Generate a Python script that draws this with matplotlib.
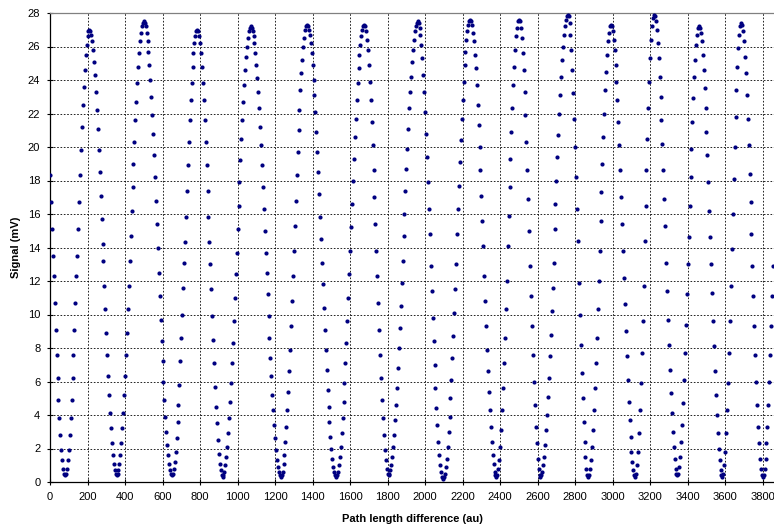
import matplotlib
matplotlib.use("Agg")
import matplotlib.pyplot as plt

plt.rcParams['font.family'] = ['Liberation Sans', 'DejaVu Sans']

# Path length difference (au) of each sample
path_au = [
    0, 5, 10, 15, 20, 25, 30, 35, 40, 45, 50, 55, 60, 65, 70, 75,
    80, 85, 90, 95, 100, 105, 110, 115, 120, 125, 130, 135, 140, 145, 150, 155, 160, 165, 170, 175, 180, 185, 190, 195, 200, 205,
    210, 215, 220, 225, 230, 235, 240, 245, 250, 255, 260, 265, 270, 275, 280, 285, 290, 295, 300, 305, 310, 315, 320, 325, 330, 335, 340, 345, 350,
    355, 360, 365, 370, 375, 380, 385, 390, 395, 400, 405, 410, 415, 420, 425, 430, 435, 440, 445, 450, 455, 460, 465, 470, 475, 480, 485, 490, 495,
    500, 505, 510, 515, 520, 525, 530, 535, 540, 545, 550, 555, 560, 565, 570, 575, 580, 585, 590, 595, 600, 605, 610, 615, 620, 625, 630, 635, 640, 645,
    650, 655, 660, 665, 670, 675, 680, 685, 690, 695, 700, 705, 710, 715, 720, 725, 730, 735, 740, 745, 750, 755, 760, 765, 770, 775, 780,
    785, 790, 795, 800, 805, 810, 815, 820, 825, 830, 835, 840, 845, 850, 855, 860, 865, 870, 875, 880, 885, 890, 895, 900, 905, 910, 915,
    920, 925, 930, 935, 940, 945, 950, 955, 960, 965, 970, 975, 980, 985, 990, 995, 1000, 1005, 1010, 1015, 1020, 1025, 1030, 1035, 1040, 1045, 1050, 1055, 1060, 1065,
    1070, 1075, 1080, 1085, 1090, 1095, 1100, 1105, 1110, 1115, 1120, 1125, 1130, 1135, 1140, 1145, 1150, 1155, 1160, 1165, 1170, 1175, 1180, 1185, 1190, 1195, 1200, 1205, 1210, 1215, 1220, 1225,
    1230, 1235, 1240, 1245, 1250, 1255, 1260, 1265, 1270, 1275, 1280, 1285, 1290, 1295, 1300, 1305, 1310, 1315, 1320, 1325, 1330, 1335, 1340, 1345, 1350, 1355, 1360, 1365,
    1370, 1375, 1380, 1385, 1390, 1395, 1400, 1405, 1410, 1415, 1420, 1425, 1430, 1435, 1440, 1445, 1450, 1455, 1460, 1465, 1470, 1475, 1480, 1485, 1490, 1495, 1500, 1505, 1510, 1515, 1520,
    1525, 1530, 1535, 1540, 1545, 1550, 1555, 1560, 1565, 1570, 1575, 1580, 1585, 1590, 1595, 1600, 1605, 1610, 1615, 1620, 1625, 1630, 1635, 1640, 1645, 1650, 1655, 1660, 1665, 1670,
    1675, 1680, 1685, 1690, 1695, 1700, 1705, 1710, 1715, 1720, 1725, 1730, 1735, 1740, 1745, 1750, 1755, 1760, 1765, 1770, 1775, 1780, 1785, 1790, 1795, 1800,
    1805, 1810, 1815, 1820, 1825, 1830, 1835, 1840, 1845, 1850, 1855, 1860, 1865, 1870, 1875, 1880, 1885, 1890, 1895, 1900, 1905, 1910, 1915, 1920, 1925, 1930, 1935, 1940, 1945, 1950, 1955,
    1960, 1965, 1970, 1975, 1980, 1985, 1990, 1995, 2000, 2005, 2010, 2015, 2020, 2025, 2030, 2035, 2040, 2045, 2050, 2055, 2060, 2065, 2070, 2075, 2080, 2085, 2090,
    2095, 2100, 2105, 2110, 2115, 2120, 2125, 2130, 2135, 2140, 2145, 2150, 2155, 2160, 2165, 2170, 2175, 2180, 2185, 2190, 2195, 2200, 2205, 2210, 2215, 2220, 2225, 2230, 2235,
    2240, 2245, 2250, 2255, 2260, 2265, 2270, 2275, 2280, 2285, 2290, 2295, 2300, 2305, 2310, 2315, 2320, 2325, 2330, 2335, 2340, 2345, 2350, 2355, 2360, 2365, 2370, 2375,
    2380, 2385, 2390, 2395, 2400, 2405, 2410, 2415, 2420, 2425, 2430, 2435, 2440, 2445, 2450, 2455, 2460, 2465, 2470, 2475, 2480, 2485, 2490, 2495,
    2500, 2505, 2510, 2515, 2520, 2525, 2530, 2535, 2540, 2545, 2550, 2555, 2560, 2565, 2570, 2575, 2580, 2585, 2590, 2595, 2600, 2605, 2610,
    2615, 2620, 2625, 2630, 2635, 2640, 2645, 2650, 2655, 2660, 2665, 2670, 2675, 2680, 2685, 2690, 2695, 2700, 2705, 2710, 2715, 2720, 2725, 2730, 2735, 2740, 2745, 2750, 2755,
    2760, 2765, 2770, 2775, 2780, 2785, 2790, 2795, 2800, 2805, 2810, 2815, 2820, 2825, 2830, 2835, 2840, 2845, 2850, 2855, 2860, 2865,
    2870, 2875, 2880, 2885, 2890, 2895, 2900, 2905, 2910, 2915, 2920, 2925, 2930, 2935, 2940, 2945, 2950, 2955, 2960, 2965, 2970, 2975, 2980, 2985,
    2990, 2995, 3000, 3005, 3010, 3015, 3020, 3025, 3030, 3035, 3040, 3045, 3050, 3055, 3060, 3065, 3070, 3075, 3080, 3085, 3090, 3095, 3100, 3105, 3110, 3115,
    3120, 3125, 3130, 3135, 3140, 3145, 3150, 3155, 3160, 3165, 3170, 3175, 3180, 3185, 3190, 3195, 3200, 3205, 3210, 3215,
    3220, 3225, 3230, 3235, 3240, 3245, 3250, 3255, 3260, 3265, 3270, 3275, 3280, 3285, 3290, 3295, 3300, 3305, 3310, 3315, 3320, 3325, 3330, 3335, 3340,
    3345, 3350, 3355, 3360, 3365, 3370, 3375, 3380, 3385, 3390, 3395, 3400, 3405, 3410, 3415, 3420, 3425, 3430, 3435, 3440, 3445, 3450, 3455,
    3460, 3465, 3470, 3475, 3480, 3485, 3490, 3495, 3500, 3505, 3510, 3515, 3520, 3525, 3530, 3535, 3540, 3545, 3550, 3555, 3560, 3565, 3570, 3575, 3580,
    3585, 3590, 3595, 3600, 3605, 3610, 3615, 3620, 3625, 3630, 3635, 3640, 3645, 3650, 3655, 3660, 3665, 3670, 3675, 3680,
    3685, 3690, 3695, 3700, 3705, 3710, 3715, 3720, 3725, 3730, 3735, 3740, 3745, 3750, 3755, 3760, 3765, 3770, 3775, 3780, 3785, 3790, 3795,
    3800, 3805, 3810, 3815, 3820, 3825, 3830, 3835, 3840, 3845, 3850, 3855,
]

# Signal (mV)
signal_mv = [
    18.3, 16.7, 15.1, 13.5, 12.3, 10.7, 9.1, 7.6, 6.2, 4.9, 3.8, 2.8, 1.9, 1.3, 0.8, 0.5,
    0.4, 0.5, 0.8, 1.3, 1.9, 2.8, 3.8, 4.9, 6.2, 7.6, 9.1, 10.7, 12.3, 13.5, 15.1, 16.7, 18.3, 19.8, 21.2, 22.5, 23.6, 24.6, 25.5, 26.1, 26.6, 26.9,
    27.0, 26.9, 26.7, 26.3, 25.8, 25.1, 24.3, 23.3, 22.2, 21.1, 19.8, 18.5, 17.1, 15.7, 14.2, 13.2, 11.7, 10.3, 8.9, 7.6, 6.3, 5.2, 4.1, 3.2, 2.3, 1.6, 1.1, 0.7, 0.5,
    0.4, 0.5, 0.7, 1.1, 1.6, 2.3, 3.2, 4.1, 5.2, 6.3, 7.6, 8.9, 10.3, 11.7, 13.2, 14.7, 16.2, 17.6, 19.0, 20.3, 21.6, 22.7, 23.8, 24.8, 25.6, 26.3, 26.8, 27.2, 27.4,
    27.5, 27.4, 27.2, 26.8, 26.3, 25.7, 24.9, 24.0, 23.0, 21.9, 20.8, 19.5, 18.2, 16.8, 15.4, 14.0, 12.5, 11.1, 9.7, 8.4, 7.2, 6.0, 4.9, 3.9, 3.0, 2.2, 1.6, 1.1, 0.7, 0.5,
    0.4, 0.5, 0.8, 1.2, 1.8, 2.6, 3.6, 4.6, 5.8, 7.2, 8.6, 10.0, 11.6, 13.1, 14.3, 15.8, 17.4, 18.9, 20.3, 21.6, 22.8, 23.8, 24.8, 25.6, 26.2, 26.6, 26.9,
    27.0, 26.9, 26.6, 26.2, 25.6, 24.8, 23.8, 22.8, 21.6, 20.3, 18.9, 17.4, 15.8, 14.3, 13.0, 11.5, 9.9, 8.5, 7.1, 5.7, 4.5, 3.5, 2.5, 1.7, 1.1, 0.7, 0.4,
    0.3, 0.4, 0.6, 1.0, 1.5, 2.1, 2.9, 3.8, 4.8, 5.9, 7.1, 8.3, 9.6, 11.0, 12.4, 13.7, 15.1, 16.5, 17.9, 19.2, 20.5, 21.6, 22.7, 23.7, 24.6, 25.4, 26.0, 26.5, 26.9, 27.1,
    27.2, 27.1, 26.9, 26.6, 26.2, 25.6, 24.9, 24.1, 23.3, 22.3, 21.2, 20.1, 18.9, 17.6, 16.3, 15.0, 13.7, 12.5, 11.2, 9.9, 8.6, 7.4, 6.3, 5.2, 4.3, 3.4, 2.6, 1.9, 1.3, 0.9, 0.6, 0.4,
    0.3, 0.4, 0.6, 1.1, 1.6, 2.4, 3.3, 4.3, 5.4, 6.6, 7.9, 9.3, 10.8, 12.3, 13.8, 15.3, 16.8, 18.3, 19.7, 21.0, 22.2, 23.4, 24.4, 25.2, 26.0, 26.5, 27.0, 27.2,
    27.3, 27.2, 27.0, 26.7, 26.2, 25.6, 24.9, 24.0, 23.1, 22.1, 20.9, 19.7, 18.5, 17.2, 15.8, 14.5, 13.1, 11.8, 10.4, 9.1, 7.9, 6.7, 5.5, 4.5, 3.6, 2.7, 2.0, 1.4, 0.9, 0.6, 0.4,
    0.3, 0.4, 0.6, 1.0, 1.5, 2.1, 2.9, 3.8, 4.8, 5.9, 7.1, 8.3, 9.6, 11.0, 12.4, 13.8, 15.2, 16.6, 18.0, 19.3, 20.6, 21.7, 22.8, 23.8, 24.7, 25.5, 26.1, 26.6, 27.0, 27.2,
    27.3, 27.2, 26.9, 26.4, 25.8, 24.9, 23.9, 22.8, 21.5, 20.1, 18.6, 17.0, 15.4, 13.8, 12.3, 10.7, 9.1, 7.6, 6.2, 4.9, 3.8, 2.8, 1.9, 1.3, 0.8, 0.5,
    0.4, 0.5, 0.7, 1.0, 1.5, 2.1, 2.8, 3.7, 4.6, 5.6, 6.8, 8.0, 9.2, 10.5, 11.9, 13.2, 14.7, 16.0, 17.4, 18.7, 19.9, 21.1, 22.3, 23.3, 24.2, 25.1, 25.8, 26.4, 26.9, 27.2, 27.4,
    27.5, 27.4, 27.1, 26.7, 26.1, 25.3, 24.3, 23.3, 22.1, 20.8, 19.4, 17.9, 16.3, 14.8, 12.9, 11.4, 9.8, 8.4, 7.0, 5.6, 4.4, 3.4, 2.4, 1.6, 1.0, 0.6, 0.3,
    0.2, 0.3, 0.5, 0.9, 1.4, 2.1, 3.0, 3.9, 5.0, 6.1, 7.4, 8.7, 10.1, 11.5, 13.0, 14.8, 16.3, 17.7, 19.1, 20.4, 21.7, 22.8, 23.9, 24.9, 25.7, 26.4, 26.9, 27.3, 27.5,
    27.6, 27.5, 27.3, 26.8, 26.3, 25.5, 24.7, 23.7, 22.5, 21.3, 20.0, 18.6, 17.1, 15.6, 14.1, 12.3, 10.8, 9.3, 7.9, 6.6, 5.4, 4.3, 3.3, 2.4, 1.6, 1.1, 0.6, 0.4,
    0.3, 0.4, 0.8, 1.3, 2.1, 3.1, 4.3, 5.6, 7.1, 8.6, 10.3, 12.0, 14.1, 15.9, 17.6, 19.3, 20.9, 22.3, 23.7, 24.8, 25.8, 26.6, 27.1, 27.5,
    27.6, 27.5, 27.1, 26.5, 25.6, 24.6, 23.3, 21.9, 20.3, 18.6, 16.9, 15.0, 12.9, 11.1, 9.3, 7.6, 6.0, 4.6, 3.3, 2.3, 1.4, 0.8, 0.4,
    0.3, 0.4, 0.6, 1.0, 1.5, 2.2, 3.1, 4.0, 5.1, 6.2, 7.5, 8.8, 10.2, 11.6, 13.1, 15.1, 16.6, 18.0, 19.4, 20.7, 22.0, 23.1, 24.2, 25.2, 26.0, 26.7, 27.2, 27.6, 27.8,
    27.9, 27.8, 27.4, 26.7, 25.8, 24.6, 23.2, 21.7, 20.0, 18.2, 16.3, 14.4, 11.9, 10.0, 8.2, 6.5, 5.0, 3.6, 2.4, 1.5, 0.8, 0.4,
    0.3, 0.4, 0.8, 1.3, 2.1, 3.1, 4.3, 5.6, 7.1, 8.6, 10.3, 12.0, 13.8, 15.6, 17.3, 19.0, 20.6, 22.0, 23.4, 24.5, 25.5, 26.3, 26.8, 27.2,
    27.3, 27.2, 26.9, 26.4, 25.8, 24.9, 23.9, 22.8, 21.5, 20.1, 18.6, 17.0, 15.4, 13.8, 12.2, 10.6, 9.0, 7.5, 6.1, 4.8, 3.7, 2.7, 1.8, 1.2, 0.7, 0.4,
    0.3, 0.5, 1.0, 1.8, 2.9, 4.3, 5.9, 7.7, 9.6, 11.7, 14.4, 16.5, 18.6, 20.5, 22.3, 23.9, 25.3, 26.4, 27.2, 27.7,
    27.9, 27.8, 27.5, 27.0, 26.2, 25.3, 24.2, 23.0, 21.6, 20.2, 18.6, 16.9, 15.3, 13.1, 11.4, 9.7, 8.2, 6.7, 5.3, 4.1, 3.0, 2.1, 1.4, 0.8, 0.5,
    0.4, 0.5, 0.9, 1.5, 2.4, 3.4, 4.7, 6.1, 7.7, 9.4, 11.2, 13.0, 14.6, 16.5, 18.2, 19.9, 21.5, 22.9, 24.2, 25.2, 26.1, 26.7, 27.1,
    27.2, 27.1, 26.8, 26.3, 25.5, 24.6, 23.5, 22.3, 20.9, 19.5, 17.9, 16.2, 14.6, 13.0, 11.3, 9.6, 8.1, 6.6, 5.2, 4.0, 2.9, 2.0, 1.3, 0.7, 0.4,
    0.3, 0.5, 1.0, 1.8, 2.9, 4.3, 5.9, 7.7, 9.6, 11.7, 13.9, 16.0, 18.1, 20.0, 21.8, 23.4, 24.8, 25.9, 26.7, 27.2,
    27.4, 27.3, 26.9, 26.3, 25.4, 24.4, 23.1, 21.7, 20.1, 18.4, 16.7, 14.8, 12.9, 11.1, 9.3, 7.6, 6.0, 4.6, 3.3, 2.3, 1.4, 0.8, 0.4,
    0.3, 0.4, 0.8, 1.4, 2.3, 3.3, 4.6, 6.0, 7.6, 9.3, 11.1, 12.9,
]

x_ticks = list(range(0, 3801, 200))
y_ticks = list(range(0, 29, 2))
x_label = "Path length difference (au)"
y_label = "Signal (mV)"

W, H = 774, 527
fig = plt.figure(figsize=(W / 100, H / 100), dpi=100)
ax = fig.add_axes([50 / W, (H - 482) / H, 1 - 50 / W, (482 - 13) / H])

ax.scatter(path_au, signal_mv, s=9, color="#000080", linewidths=0, zorder=3)

ax.set_xlim(0, 3860)
ax.set_ylim(0, 28)
ax.set_xticks(x_ticks)
ax.set_yticks(y_ticks)
ax.tick_params(axis="both", labelsize=8, length=4, width=0.8, color="black",
               direction="inout")
ax.tick_params(axis="x", pad=5)
ax.tick_params(axis="y", pad=5)

ax.grid(True, color="black", linestyle=(0, (2, 2)), linewidth=0.6, zorder=1)
ax.set_axisbelow(True)

for side in ("left", "bottom"):
    ax.spines[side].set_color("black")
    ax.spines[side].set_linewidth(0.9)
ax.spines["top"].set_color("#808080")
ax.spines["top"].set_linewidth(0.9)
ax.spines["right"].set_visible(False)

ax.set_xlabel(x_label, fontsize=8, fontweight="bold", labelpad=9)
ax.set_ylabel(y_label, fontsize=8, fontweight="bold", labelpad=5)

fig.savefig("out.png", dpi=100)
